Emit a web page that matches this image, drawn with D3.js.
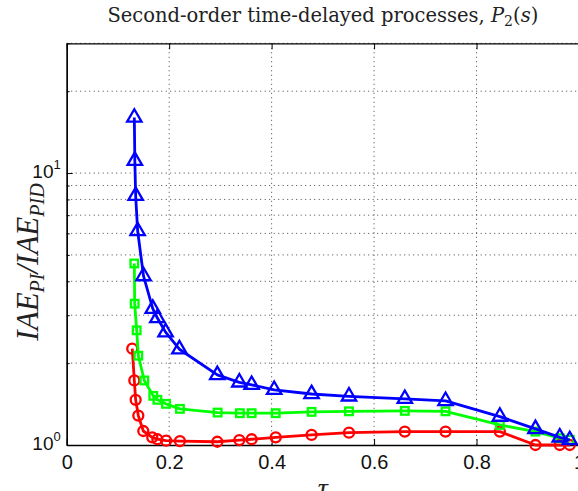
<!DOCTYPE html>
<html><head><meta charset="utf-8">
<script src="https://cdn.jsdelivr.net/npm/d3@7"></script>
<style>body{margin:0;background:#fff;overflow:hidden}svg{display:block}</style>
</head><body>
<script>
// ---- data ----
const tauBlue  = [0.132,0.133,0.1346,0.1385,0.150,0.168,0.177,0.193,0.220,0.294,0.337,0.361,0.405,0.478,0.551,0.660,0.7395,0.8455,0.915,0.9625,0.982];
const valBlue  = [16.0,11.1,8.25,6.12,4.18,3.17,2.93,2.60,2.25,1.81,1.70,1.665,1.596,1.54,1.51,1.479,1.453,1.272,1.146,1.067,1.043];
const tauGreen = [0.132,0.1327,0.1366,0.1398,0.1515,0.169,0.177,0.1938,0.221,0.2946,0.338,0.361,0.408,0.478,0.551,0.660,0.7395,0.8455,0.915,0.9625,0.982];
const valGreen = [4.65,3.31,2.64,2.13,1.727,1.516,1.466,1.417,1.358,1.316,1.309,1.309,1.309,1.324,1.33,1.335,1.33,1.185,1.12,1.059,1.045];
const tauRed   = [0.128,0.132,0.1346,0.1398,0.1495,0.167,0.177,0.194,0.221,0.294,0.337,0.361,0.408,0.478,0.551,0.660,0.7395,0.8455,0.915,0.9625,0.982];
const valRed   = [2.26,1.727,1.466,1.283,1.126,1.067,1.05,1.037,1.034,1.028,1.043,1.05,1.067,1.089,1.11,1.12,1.12,1.12,1.0,1.0,1.0];
const xTicks = [0,0.2,0.4,0.6,0.8,1];
const xTickLabels = ["0","0.2","0.4","0.6","0.8","1"];
const yMajor = [1,10];
const yMinor = [2,3,4,5,6,7,8,9,20,30];
const titleText = "Second-order time-delayed processes, ";

// ---- layout ----
const W=578,H=491;
const L=66.7,R=579,T=43.3,B=445;
const svg=d3.select("body").append("svg").attr("width",W).attr("height",H);
const x=d3.scaleLinear().domain([0,1]).range([L,R]);
const y=d3.scaleLog().domain([1,30]).range([B,T]);

// grid
const grid=svg.append("g").attr("stroke","#444").attr("stroke-width",1).attr("stroke-dasharray","1,3.5");
grid.selectAll("line.gx").data(xTicks.filter(d=>d>0&&d<1)).join("line")
  .attr("x1",d=>x(d)).attr("x2",d=>x(d)).attr("y1",T).attr("y2",B);
grid.selectAll("line.gy").data(yMinor.concat([10])).join("line")
  .attr("x1",L).attr("x2",R).attr("y1",d=>y(d)).attr("y2",d=>y(d));

// axes with inward ticks
const axB=d3.axisBottom(x).tickValues(xTicks).tickFormat((d,i)=>xTickLabels[i]).tickSizeInner(-6).tickSizeOuter(0).tickPadding(10);
const gB=svg.append("g").attr("transform",`translate(0,${B})`).call(axB);
const axT=d3.axisTop(x).tickValues(xTicks).tickFormat("").tickSizeInner(-6).tickSizeOuter(0);
svg.append("g").attr("transform",`translate(0,${T})`).call(axT);
const axL=d3.axisLeft(y).tickValues(yMajor).tickFormat("").tickSizeInner(-6).tickSizeOuter(0);
svg.append("g").attr("transform",`translate(${L},0)`).call(axL);
const axLm=d3.axisLeft(y).tickValues(yMinor).tickFormat("").tickSizeInner(-3).tickSizeOuter(0);
svg.append("g").attr("transform",`translate(${L},0)`).call(axLm);
svg.selectAll(".domain").attr("stroke","#000").attr("stroke-width",1.3);
svg.selectAll(".tick line").attr("stroke","#000");
gB.selectAll(".tick text").attr("font-family","Liberation Sans, Arial, sans-serif").attr("font-size",20).attr("fill","#111");

// y major labels with superscripts
const yl=svg.append("g").attr("font-family","Liberation Sans, Arial, sans-serif").attr("fill","#111");
yMajor.forEach(v=>{
  const t=yl.append("text").attr("x",L-6).attr("y",y(v)+5).attr("text-anchor","end").attr("font-size",19);
  t.append("tspan").text("10");
  t.append("tspan").attr("font-size",13).attr("dy",-9).text(String(Math.round(Math.log10(v))));
});

// series
const series=[
  {t:tauRed,v:valRed,c:"#ff0000",m:"circle"},
  {t:tauGreen,v:valGreen,c:"#00ff00",m:"square"},
  {t:tauBlue,v:valBlue,c:"#0000ff",m:"triangle"}
];
const line=d3.line().x(d=>x(d[0])).y(d=>y(d[1]));
series.forEach(s=>{
  const pts=s.t.map((t,i)=>[t,s.v[i]]);
  const g=svg.append("g");
  g.append("path").attr("d",line(pts)).attr("fill","none").attr("stroke",s.c).attr("stroke-width",2.8).attr("stroke-linejoin","round");
  if(s.m==="circle"){
    g.selectAll("circle").data(pts).join("circle").attr("cx",d=>x(d[0])).attr("cy",d=>y(d[1])).attr("r",5)
      .attr("fill","none").attr("stroke",s.c).attr("stroke-width",2.3);
  } else if(s.m==="square"){
    g.selectAll("rect").data(pts).join("rect").attr("x",d=>x(d[0])-3.8).attr("y",d=>y(d[1])-3.8).attr("width",7.6).attr("height",7.6)
      .attr("fill","none").attr("stroke",s.c).attr("stroke-width",2.3);
  } else {
    const tri=d3.symbol().type(d3.symbolTriangle).size(90);
    g.selectAll("path.m").data(pts).join("path").attr("class","m").attr("d",tri)
      .attr("transform",d=>`translate(${x(d[0])},${y(d[1])})`)
      .attr("fill","none").attr("stroke",s.c).attr("stroke-width",2.3).attr("stroke-linejoin","miter");
  }
});

// title
const tt=svg.append("text").attr("x",(L+R)/2).attr("y",22).attr("text-anchor","middle")
  .attr("font-family","DejaVu Serif, serif").attr("font-size",19.5).attr("fill","#222");
tt.append("tspan").text(titleText);
tt.append("tspan").attr("font-style","italic").text("P");
tt.append("tspan").attr("font-size",14).attr("dy",4).text("2");
tt.append("tspan").attr("dy",-4).text("(");
tt.append("tspan").attr("font-style","italic").text("s");
tt.append("tspan").text(")");

// y label
const yt=svg.append("text").attr("transform",`translate(38,262) rotate(-90)`).attr("text-anchor","middle")
  .attr("font-family","Liberation Serif, Times New Roman, serif").attr("font-size",31).attr("font-style","italic").attr("fill","#222");
yt.append("tspan").text("IAE");
yt.append("tspan").attr("font-size",20).attr("dy",6).text("PI");
yt.append("tspan").attr("dy",-6).text("/");
yt.append("tspan").text("IAE");
yt.append("tspan").attr("font-size",20).attr("dy",6).text("PID");

// x label
svg.append("text").attr("x",(L+R)/2).attr("y",497).attr("text-anchor","middle")
  .attr("font-family","Liberation Serif, Times New Roman, serif").attr("font-size",28).attr("font-style","italic").attr("fill","#222").text("τ");
</script>
</body></html>
